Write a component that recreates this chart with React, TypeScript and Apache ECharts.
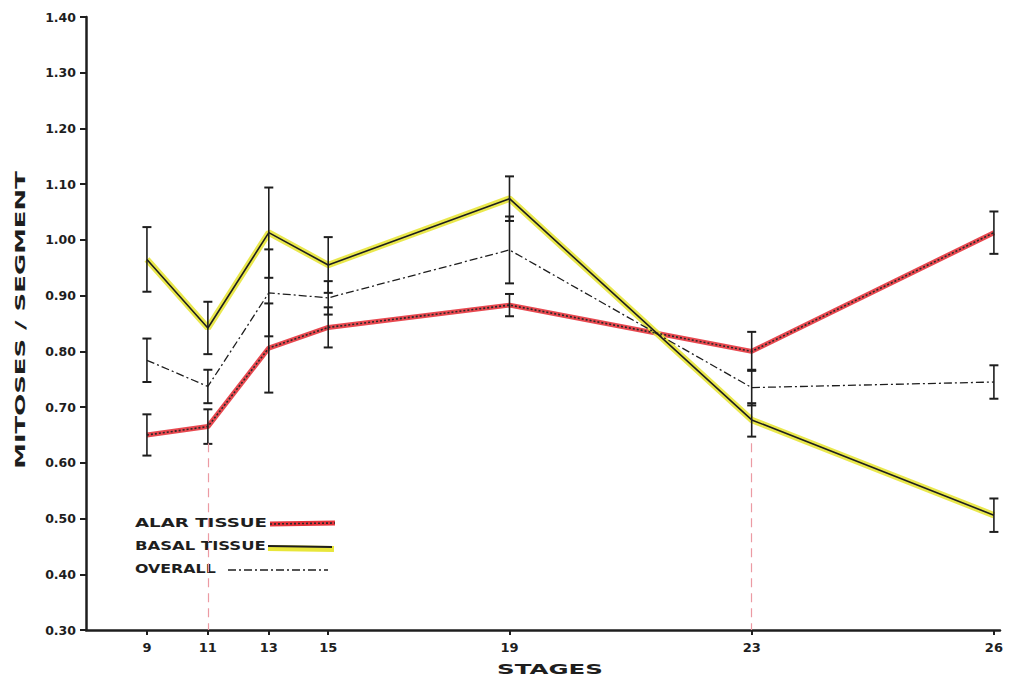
import React, { useEffect, useRef } from "react";
import * as echarts from "echarts";

// ---- data ----
const stages = [9, 11, 13, 15, 19, 23, 26];
// position of each stage along the (non-uniform) horizontal axis, in axis units
const stageAxisPosition = [2, 4, 6, 7.95, 13.9, 21.85, 29.8];

const alarMean = [0.65, 0.665, 0.806, 0.843, 0.883, 0.8, 1.013];
const alarErr = [0.037, 0.031, 0.08, 0.036, 0.02, 0.035, 0.038];

const basalMean = [0.965, 0.842, 1.013, 0.955, 1.074, 0.677, 0.506];
const basalErr = [0.058, 0.047, 0.081, 0.05, 0.04, 0.03, 0.03];

const overallMean = [0.784, 0.737, 0.905, 0.896, 0.982, 0.735, 0.745];
const overallErr = [0.039, 0.03, 0.078, 0.03, 0.06, 0.032, 0.03];

const yTicks = [0.3, 0.4, 0.5, 0.6, 0.7, 0.8, 0.9, 1.0, 1.1, 1.2, 1.3, 1.4];

// faint pink guide lines dropped to the axis at stages 11 and 23
const dropStages = [11, 23];
const dropTop = 0.635;

const legendLabels = ["ALAR TISSUE", "BASAL TISSUE", "OVERALL"];

const RED = "#e6343c";
const YELLOW = "#e8e63a";
const INK = "#1e1e1e";
const FONT = "DejaVu Sans";

const pts = (vals: number[]) => vals.map((v, i) => [stageAxisPosition[i], v]);
const errs = (vals: number[], e: number[]) =>
  vals.map((v, i) => [stageAxisPosition[i], v - e[i], v + e[i]]);

function errorBarItem(params: any, api: any) {
  const x = api.value(0);
  const lo = api.coord([x, api.value(1)]);
  const hi = api.coord([x, api.value(2)]);
  const half = 4.5;
  const style = { stroke: INK, lineWidth: 1.6 };
  return {
    type: "group",
    children: [
      { type: "line", shape: { x1: lo[0], y1: lo[1], x2: hi[0], y2: hi[1] }, style },
      { type: "line", shape: { x1: lo[0] - half, y1: lo[1], x2: lo[0] + half, y2: lo[1] }, style: { stroke: INK, lineWidth: 2 } },
      { type: "line", shape: { x1: hi[0] - half, y1: hi[1], x2: hi[0] + half, y2: hi[1] }, style: { stroke: INK, lineWidth: 2 } },
    ],
  };
}

function nearestStage(v: number) {
  let best = 0;
  for (let i = 1; i < stageAxisPosition.length; i++) {
    if (Math.abs(stageAxisPosition[i] - v) < Math.abs(stageAxisPosition[best] - v)) best = i;
  }
  return String(stages[best]);
}

export default function App() {
  const ref = useRef<HTMLDivElement>(null);

  useEffect(() => {
    if (!ref.current) return;
    const chart = echarts.init(ref.current, undefined, { renderer: "svg" });

    const legendText = (text: string, y: number, sx: number) => ({
      type: "text",
      x: 135,
      y,
      scaleX: sx,
      style: {
        text,
        fill: INK,
        font: `bold 12px "${FONT}"`,
        textAlign: "left",
        textVerticalAlign: "middle",
      },
    });

    const option: any = {
      animation: false,
      backgroundColor: "#ffffff",
      grid: { left: 86, right: 11, top: 17, bottom: 48, containLabel: false },
      xAxis: {
        type: "value",
        min: 0,
        max: 30,
        splitLine: { show: false },
        axisLine: { show: true, lineStyle: { color: INK, width: 2.5 } },
        axisTick: {
          show: true,
          customValues: stageAxisPosition,
          length: 5,
          lineStyle: { color: INK, width: 2 },
        },
        axisLabel: {
          customValues: stageAxisPosition,
          formatter: (v: number) => nearestStage(v),
          color: INK,
          fontFamily: FONT,
          fontWeight: "bold",
          fontSize: 13,
          margin: 11,
        },
      },
      yAxis: {
        type: "value",
        min: 0.3,
        max: 1.4,
        splitLine: { show: false },
        axisLine: { show: true, lineStyle: { color: INK, width: 2.5 } },
        axisTick: {
          show: true,
          customValues: yTicks,
          length: 6,
          lineStyle: { color: INK, width: 2 },
        },
        axisLabel: {
          customValues: yTicks,
          formatter: (v: number) => v.toFixed(2),
          color: INK,
          fontFamily: FONT,
          fontWeight: "bold",
          fontSize: 12.5,
          margin: 10,
        },
      },
      series: [
        {
          name: "Alar tissue (colour)",
          type: "line",
          data: pts(alarMean),
          symbol: "none",
          z: 2,
          lineStyle: { color: RED, width: 5, opacity: 0.9 },
          markLine: {
            silent: true,
            symbol: "none",
            label: { show: false },
            lineStyle: { color: "#ec9aa3", type: [9, 6], width: 1.2 },
            data: dropStages.map((s) => {
              const p = stageAxisPosition[stages.indexOf(s)];
              return [{ coord: [p, dropTop] }, { coord: [p, 0.3] }];
            }),
          },
        },
        {
          name: "Basal tissue (colour)",
          type: "line",
          data: pts(basalMean),
          symbol: "none",
          z: 2,
          lineStyle: { color: YELLOW, width: 6.5, opacity: 0.9 },
        },
        {
          name: "Alar tissue",
          type: "line",
          data: pts(alarMean),
          symbol: "none",
          z: 3,
          lineStyle: { color: "#2a2a2a", width: 1.6, type: [2, 2] },
        },
        {
          name: "Basal tissue",
          type: "line",
          data: pts(basalMean),
          symbol: "none",
          z: 3,
          lineStyle: { color: INK, width: 1.6 },
        },
        {
          name: "Overall",
          type: "line",
          data: pts(overallMean),
          symbol: "none",
          z: 3,
          lineStyle: { color: INK, width: 1.3, type: [8, 3, 2, 3] },
        },
        {
          name: "Alar error",
          type: "custom",
          data: errs(alarMean, alarErr),
          renderItem: errorBarItem,
          z: 4,
        },
        {
          name: "Basal error",
          type: "custom",
          data: errs(basalMean, basalErr),
          renderItem: errorBarItem,
          z: 4,
        },
        {
          name: "Overall error",
          type: "custom",
          data: errs(overallMean, overallErr),
          renderItem: errorBarItem,
          z: 4,
        },
      ],
      graphic: [
        {
          type: "text",
          x: 20,
          y: 320,
          rotation: Math.PI / 2,
          scaleX: 1.85,
          style: {
            text: "MITOSES / SEGMENT",
            fill: INK,
            font: `bold 14px "${FONT}"`,
            textAlign: "center",
            textVerticalAlign: "middle",
          },
        },
        {
          type: "text",
          x: 550,
          y: 669,
          scaleX: 1.75,
          style: {
            text: "STAGES",
            fill: INK,
            font: `bold 14px "${FONT}"`,
            textAlign: "center",
            textVerticalAlign: "middle",
          },
        },
        legendText(legendLabels[0], 523, 1.52),
        legendText(legendLabels[1], 546, 1.37),
        legendText(legendLabels[2], 569, 1.32),
        // legend samples
        { type: "line", shape: { x1: 270, y1: 524, x2: 335, y2: 523 }, style: { stroke: RED, lineWidth: 5 } },
        { type: "line", shape: { x1: 270, y1: 524, x2: 335, y2: 523 }, style: { stroke: "#2a2a2a", lineWidth: 1.6, lineDash: [2, 2] } },
        { type: "line", shape: { x1: 268, y1: 548, x2: 334, y2: 549 }, style: { stroke: YELLOW, lineWidth: 6 } },
        { type: "line", shape: { x1: 268, y1: 546, x2: 332, y2: 547 }, style: { stroke: INK, lineWidth: 1.8 } },
        { type: "line", shape: { x1: 228, y1: 570, x2: 328, y2: 570 }, style: { stroke: INK, lineWidth: 1.3, lineDash: [8, 3, 2, 3] } },
      ],
    };

    chart.setOption(option);
    return () => chart.dispose();
  }, []);

  return <div ref={ref} style={{ width: 1011, height: 678, position: "absolute", left: 0, top: 0 }} />;
}
